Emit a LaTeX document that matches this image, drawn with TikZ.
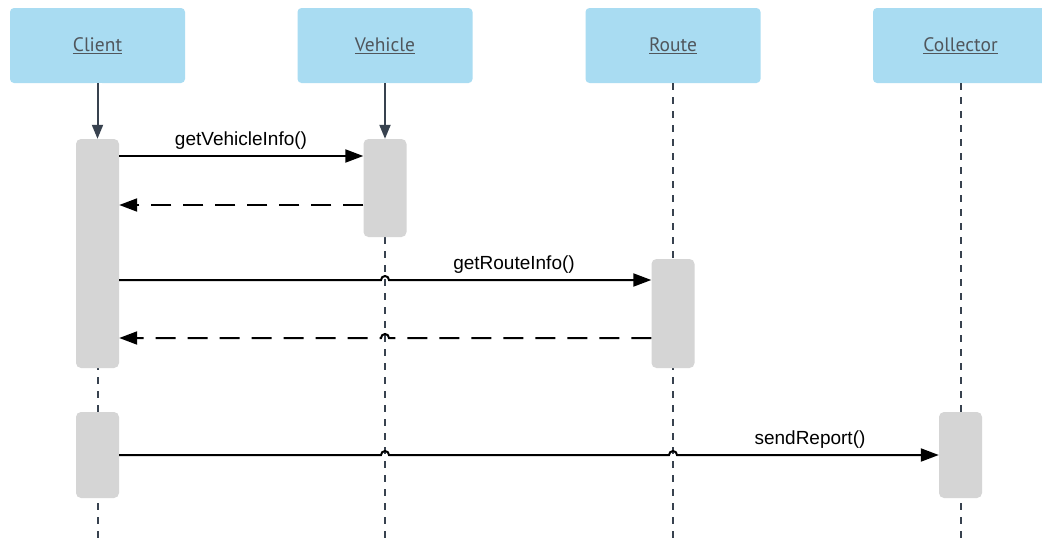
\documentclass[tikz,border=0pt]{standalone}
\usepackage{fontspec}
\setmainfont{Liberation Sans}
\newfontfamily\headfont{PT Sans}
\usetikzlibrary{arrows.meta,calc}

\definecolor{headblue}{HTML}{A9DCF2}
\definecolor{lifegray}{HTML}{38424F}
\definecolor{actgray}{HTML}{D5D5D5}
\definecolor{headtext}{HTML}{50565C}

\tikzset{
  headbox/.style={fill=headblue, rounded corners=4pt, minimum width=175pt, minimum height=75pt,
    inner sep=0pt, font=\headfont\fontsize{19.5}{22}\selectfont, text=headtext},
  actbox/.style={fill=actgray, rounded corners=5pt, inner sep=0pt, minimum width=43pt},
  lifeline/.style={draw=lifegray, line width=2pt, dash pattern=on 7pt off 7pt},
  lifearrow/.style={draw=lifegray, line width=2pt, -{Triangle[length=14pt,width=11pt]}},
  msg/.style={draw=black, line width=2pt, -{Triangle[length=18pt,width=13pt]}},
  ret/.style={msg, dash pattern=on 20pt off 12pt},
  msglabel/.style={font=\fontsize{19}{22}\selectfont, anchor=base, inner sep=0pt},
}

\newcommand{\ulabel}[1]{\underline{#1}}

\begin{document}
\begin{tikzpicture}[x=1pt,y=-1pt]
\clip (0,0) rectangle (1042,541);
\fill[white] (0,0) rectangle (1042,541);

% participants
\node[headbox] (client)    at (97.5,45.5)   {\ulabel{Client}};
\node[headbox] (vehicle)   at (385,45.5)    {\ulabel{Vehicle}};
\node[headbox] (route)     at (673,45.5)    {\ulabel{Route}};
\node[headbox] (collector) at (960.5,45.5)  {\ulabel{Collector}};

% lifeline ends
\coordinate (clientEnd)    at (97.5,545);
\coordinate (vehicleEnd)   at (385,545);
\coordinate (routeEnd)     at (673,545);
\coordinate (collectorEnd) at (960.5,545);

% lifelines
\draw[lifeline] (client.south)    -- (clientEnd);
\draw[lifeline] (vehicle.south)   -- (vehicleEnd);
\draw[lifeline] (route.south)     -- (routeEnd);
\draw[lifeline] (collector.south) -- (collectorEnd);

% activations
\node[actbox, minimum height=229pt] (cl1) at (97.5,253.5) {};
\node[actbox, minimum height=86pt]  (cl2) at (97.5,455)   {};
\node[actbox, minimum height=98pt]  (ve1) at (385,188)    {};
\node[actbox, minimum height=109pt] (ro1) at (673,313.5)  {};
\node[actbox, minimum height=86pt]  (co1) at (960.5,455)  {};

% creation arrows
\fill[white] (client.south) ++(-4,0) rectangle ++(8,55);
\fill[white] (vehicle.south) ++(-4,0) rectangle ++(8,55);
\draw[lifearrow] (client.south)  -- (cl1.north);
\draw[lifearrow] (vehicle.south) -- (ve1.north);

% messages
\draw[msg] (cl1.east |- 0,156) -- (ve1.west |- 0,156);
\node[msglabel] (lblVehicle) at (241,145) {getVehicleInfo()};
\draw[ret] (ve1.west |- 0,205) -- (cl1.east |- 0,205);

\draw[msg] (cl1.east |- 0,280) -- ($(vehicle.south |- 0,280)+(-4,0)$)
  arc[start angle=180, end angle=0, radius=4pt] -- (ro1.west |- 0,280);
\node[msglabel] (lblRoute) at (514,269) {getRouteInfo()};

\draw[ret] (ro1.west |- 0,338) -- ($(vehicle.south |- 0,338)+(4,0)$)
  arc[start angle=0, end angle=180, radius=4pt] -- (cl1.east |- 0,338);

\draw[msg] (cl2.east |- 0,455) -- ($(vehicle.south |- 0,455)+(-4,0)$)
  arc[start angle=180, end angle=0, radius=4pt]
  -- ($(route.south |- 0,455)+(-4,0)$)
  arc[start angle=180, end angle=0, radius=4pt] -- (co1.west |- 0,455);
\node[msglabel] (lblReport) at (810,444) {sendReport()};

\end{tikzpicture}
\end{document}
